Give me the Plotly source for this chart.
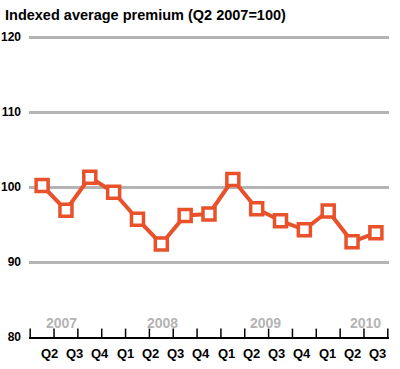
import plotly.graph_objects as go

quarter_labels = ["Q2", "Q3", "Q4", "Q1", "Q2", "Q3", "Q4", "Q1", "Q2", "Q3", "Q4", "Q1", "Q2", "Q3"]
year_labels = ["2007", "2008", "2009", "2010"]
premium = [100.2, 96.9, 101.3, 99.3, 95.7, 92.4, 96.2, 96.4, 101.0, 97.1, 95.5, 94.3, 96.8, 92.7, 93.9]
y_ticks = [80, 90, 100, 110, 120]

n = len(premium)
xs = list(range(n))
quarter_pos = [0.3 + 1.06 * k for k in range(len(quarter_labels))]
year_pos = [0.8, 5.03, 9.35, 13.58]
boundaries = [i - 0.5 for i in range(n + 1)]
y_min = y_ticks[0]

ORANGE = "#e8512a"
GRAY = "#b4b4b4"
FONT = "Liberation Sans"

fig = go.Figure()
# boundary ticks on the baseline (lower half clipped by the plot area)
fig.add_trace(go.Scatter(
    x=boundaries, y=[y_min] * len(boundaries), mode="markers",
    marker=dict(symbol="line-ns", size=12, line=dict(color="black", width=1.5)),
    hoverinfo="skip", showlegend=False, cliponaxis=True,
))
fig.add_trace(go.Scatter(
    x=xs, y=premium, mode="lines+markers",
    line=dict(color=ORANGE, width=4),
    marker=dict(symbol="square", size=12, color="white",
                line=dict(color=ORANGE, width=3.5)),
    hoverinfo="skip", showlegend=False, cliponaxis=False,
))

for yr, xp in zip(year_labels, year_pos):
    fig.add_annotation(x=xp, y=81.9, xref="x", yref="y", text=yr, showarrow=False,
                       font=dict(family=FONT, size=14, color=GRAY, weight="bold"))

for q, xp in zip(quarter_labels, quarter_pos):
    fig.add_annotation(x=xp, y=-0.053, xref="x", yref="paper", yanchor="middle",
                       text=q, showarrow=False,
                       font=dict(family=FONT, size=13, color="black", weight="bold"))

fig.update_layout(
    width=400, height=369,
    margin=dict(l=28.8, r=10.8, t=35, b=32),
    paper_bgcolor="white", plot_bgcolor="white",
    title=dict(text="Indexed average premium (Q2 2007=100)", x=5/400, xref="container",
               xanchor="left", y=1 - 15/369, yref="container", yanchor="middle",
               font=dict(family=FONT, size=14.5, color="black", weight="bold")),
    xaxis=dict(
        range=[-0.55, n - 0.45], showgrid=False, zeroline=False, automargin=False,
        showline=True, linecolor="black", linewidth=1.5, layer="above traces",
        tickmode="array", tickvals=boundaries, showticklabels=False, ticks="",
    ),
    yaxis=dict(
        range=[80, 120.27], tickmode="array", tickvals=y_ticks, automargin=False,
        showgrid=True, gridcolor=GRAY, gridwidth=2.5, zeroline=False,
        showline=False, ticks="", ticklabelstandoff=7,
        tickfont=dict(family=FONT, size=12, color="black", weight="bold"),
    ),
)

fig.write_html("out.html", config={"displayModeBar": False},
               post_script="document.body.style.margin='0';")
